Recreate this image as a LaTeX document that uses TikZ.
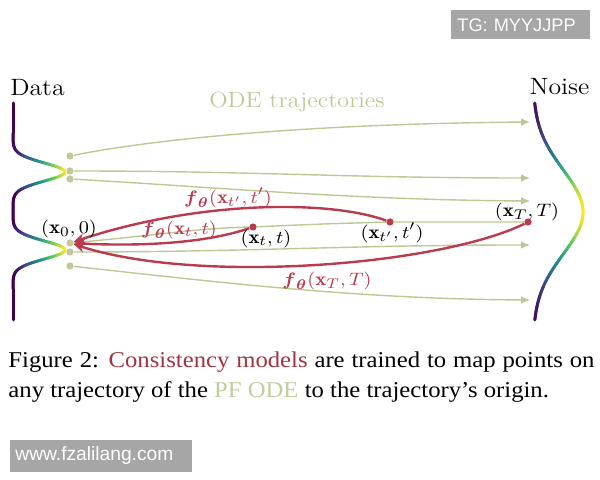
\documentclass[tikz,border=0pt]{standalone}
\usepackage{amsmath}
\usepackage{fontspec}
\newfontfamily\capfont{Liberation Serif}
\newfontfamily\wmfont{Liberation Sans}
\usetikzlibrary{arrows.meta}

\definecolor{odegreen}{RGB}{188,201,148}
\definecolor{odedot}{RGB}{196,199,155}
\definecolor{cmred}{RGB}{186,58,80}
\definecolor{capred}{RGB}{160,52,66}
\definecolor{capgreen}{RGB}{192,206,160}
\definecolor{wmgray}{RGB}{166,166,166}
\definecolor{vir0}{RGB}{68,1,84}
\definecolor{vir1}{RGB}{59,82,139}
\definecolor{vir2}{RGB}{33,145,140}
\definecolor{vir3}{RGB}{94,201,98}
\definecolor{vir4}{RGB}{253,231,37}

% viridis colour 'vir' for a density value in [0,1]
\newcommand\setvir[1]{%
  \pgfmathsetmacro\virs{min(3.999,max(0,4*(#1)))}%
  \pgfmathtruncatemacro\viri{\virs}%
  \pgfmathsetmacro\virf{100*(\virs-\viri)}%
  \ifcase\viri\relax
    \colorlet{vir}{vir1!\virf!vir0}%
  \or \colorlet{vir}{vir2!\virf!vir1}%
  \or \colorlet{vir}{vir3!\virf!vir2}%
  \else \colorlet{vir}{vir4!\virf!vir3}%
  \fi}

\begin{document}
\begin{tikzpicture}[
            x=0.45746pt, y=-0.5pt, xscale=1.093,
            gdot/.style={circle, fill=odedot, minimum size=3.6pt, inner sep=0pt},
            rdot/.style={circle, fill=cmred, minimum size=3.6pt, inner sep=0pt},
            traj/.style={odegreen, line width=0.7pt, -{Latex[length=4.5pt,width=3.8pt]}},
            cmap/.style={cmred, line width=1.2pt, -{Stealth[length=5.5pt,width=5pt]}},
            dens/.style={line width=1.5pt, line cap=round},
            txt/.style={transform shape, inner sep=0pt},
            ttl/.style={txt, font=\fontsize{11.8pt}{14pt}\selectfont},
            lbl/.style={txt, font=\fontsize{9.5pt}{11pt}\selectfont},
            flbl/.style={lbl, text=cmred},
            capt/.style={txt, anchor=base west, font=\capfont\fontsize{11.3pt}{15pt}\selectfont},
            wmark/.style={fill=wmgray, text=white, anchor=north west, minimum height=14.5pt, align=left},
        ]
        \useasboundingbox (0,0) rectangle (600,480);

        % Density of the data (two modes) and of the noise
        \foreach \y in {103,...,319}{
            \pgfmathsetmacro\ua{(\y-172)/9}
            \pgfmathsetmacro\ub{(\y-250)/9}
            \pgfmathsetmacro\va{(\y+1-172)/9}
            \pgfmathsetmacro\vb{(\y+1-250)/9}
            \pgfmathsetmacro\da{exp(max(-15,-0.5*(\ua)*(\ua)))+exp(max(-15,-0.5*(\ub)*(\ub)))}
            \pgfmathsetmacro\db{exp(max(-15,-0.5*(\va)*(\va)))+exp(max(-15,-0.5*(\vb)*(\vb)))}
            \setvir{(\da+\db)/2}
            \draw[dens, vir] (13+52*\da,\y) -- (13+52*\db,\y+1);
        }
        \foreach \y in {103,...,319}{
            \pgfmathsetmacro\ua{(\y-212)/42}
            \pgfmathsetmacro\va{(\y+1-212)/42}
            \pgfmathsetmacro\da{exp(-0.5*(\ua)*(\ua))}
            \pgfmathsetmacro\db{exp(-0.5*(\va)*(\va))}
            \setvir{(\da+\db)/2}
            \draw[dens, vir] (533+50*\da,\y) -- (533+50*\db,\y+1);
        }

        \node[ttl] (data) at (37.5,88) {Data};
        \node[ttl] (noise) at (559.5,87) {Noise};
        \node[ttl, text=odegreen, font=\fontsize{11pt}{13pt}\selectfont] (odelab) at (297,102) {ODE trajectories};

        % Start points of the trajectories
        \foreach \name / \y in {1/156,2/171,3/179,5/252,6/266}
        \node[gdot] (s\name) at (70,\y) {};
        \node[gdot] (x0) at (70,243) {};

        % End points
        \foreach \name / \y in {1/122,2/178,3/201,5/245,6/300}
        \coordinate (e\name) at (530,\y);

        % Points on the trajectory through x0
        \node[rdot] (xt) at (253,227) {};
        \node[rdot] (xtp) at (390,222) {};
        \node[rdot] (xT) at (528,222) {};

        % ODE trajectories
        \draw[traj] (s1) .. controls (150,140) and (300,124) .. (e1);
        \draw[traj] (s2) .. controls (250,171) and (350,178) .. (e2);
        \draw[traj] (s3) .. controls (200,186) and (350,200) .. (e3);
        \draw[traj] (s5) .. controls (250,252) and (350,245) .. (e5);
        \draw[traj] (s6) .. controls (200,280) and (350,299) .. (e6);
        \draw[traj, -] (x0) .. controls (150,236) and (200,228) .. (xt)
            .. controls (320,224) .. (xtp) -- (xT);

        % Consistency model maps back to the origin
        \draw[cmap] (xtp) .. controls (330,200) and (200,200) .. (x0);
        \draw[cmap] (xt) .. controls (200,245) and (130,246) .. (x0);
        \draw[cmap] (xT) .. controls (440,265) and (200,285) .. (x0);

        \node[lbl] (x0lab) at (69,229) {$(\mathbf{x}_0, 0)$};
        \node[lbl] (xtlab) at (266,239) {$(\mathbf{x}_t, t)$};
        \node[lbl] (xtplab) at (392,233) {$(\mathbf{x}_{t'}, t')$};
        \node[lbl] (xTlab) at (527,212) {$(\mathbf{x}_T, T)$};
        \node[flbl] (ftp) at (228,198) {$\boldsymbol{f}_{\boldsymbol{\theta}}(\mathbf{x}_{t'}, t')$};
        \node[flbl] (ft) at (179,230) {$\boldsymbol{f}_{\boldsymbol{\theta}}(\mathbf{x}_t, t)$};
        \node[flbl] (fT) at (327,281) {$\boldsymbol{f}_{\boldsymbol{\theta}}(\mathbf{x}_T, T)$};

        % Caption
        \node[capt] (cap1) at (8,368) {\makebox[268.1pt][s]{Figure 2: \textcolor{capred}{Consistency models} are trained to map points on}};
        \node[capt] (cap2) at (8,398) {any trajectory of the \textcolor{capgreen}{PF ODE} to the trajectory’s origin.};

        % Watermarks
        \node[wmark, inner xsep=3pt, text width=63.5pt, font=\wmfont\fontsize{9.1pt}{11pt}\selectfont] (tg) at (451,10) {TG: MYYJJPP};
        \node[wmark, inner xsep=2.5pt, text width=86pt, font=\wmfont\fontsize{9.6pt}{11pt}\selectfont] (site) at (10,440) {www.fzalilang.com};
    \end{tikzpicture}
\end{document}
